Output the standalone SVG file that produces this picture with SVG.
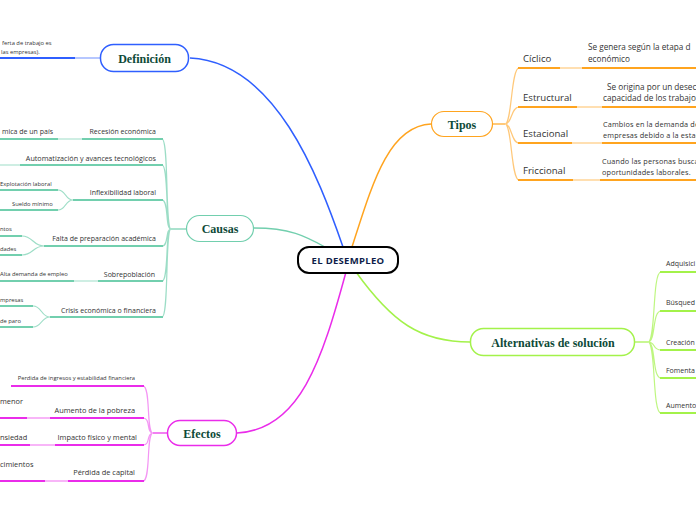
<svg xmlns="http://www.w3.org/2000/svg" width="696" height="520" viewBox="0 0 696 520">
<style>
.main{font-family:"Liberation Serif",serif;font-weight:bold;font-size:12px;fill:#0e4a38}
.lbl{font-family:"Open Sans",sans-serif;fill:#333;font-size:7px}
.lbe{font-family:"Open Sans",sans-serif;fill:#333;font-size:7.4px}
.sm{font-family:"Open Sans",sans-serif;fill:#333;font-size:5.8px}
.ty{font-family:"Open Sans",sans-serif;fill:#333;font-size:9.6px}
.ds{font-family:"Open Sans",sans-serif;fill:#333;font-size:8.2px}
.ds2{font-family:"Open Sans",sans-serif;fill:#333;font-size:7.3px;letter-spacing:0.15px}
path,line{fill:none}
.b{stroke:#2f5fff}
.t{stroke:#72cfae}
.o{stroke:#ffa41f}
.g{stroke:#a3f24a}
.m{stroke:#ea2cea}
.u{stroke-width:2}
.lt{stroke-width:2;opacity:0.35}
.c{stroke-width:1.2}
</style>
<g id="connectors">
  <path class="b" stroke-width="1.5" d="M343,247 C318,175 275,62 190,58"/>
  <path class="o" stroke-width="1.5" d="M352,247 C372,185 388,126 431,124"/>
  <path class="t" stroke-width="1.3" d="M254,228 C290,228 305,236 325,247"/>
  <path class="m" stroke-width="1.5" d="M346,272 C322,360 300,430 237,433"/>
  <path class="g" stroke-width="1.5" d="M356,272 C392,322 420,342 470,342"/>
  <line class="b lt" x1="75" y1="58" x2="100" y2="58"/>
  <line class="b u" x1="0" y1="58" x2="75" y2="58"/>
  <line class="o c" x1="493" y1="124" x2="505" y2="124"/>
  <path class="o c" opacity="0.6" d="M505,124 C512,124 511,68 519,68 M505,124 C512,124 511,107 519,107 M505,124 C512,124 511,143 519,143 M505,124 C512,124 511,180 519,180"/>
  <line class="o u" x1="518" y1="68" x2="560" y2="68"/><line class="o lt" x1="560" y1="68" x2="582" y2="68"/><line class="o u" x1="582" y1="68" x2="696" y2="68"/>
  <line class="o u" x1="518" y1="107" x2="577" y2="107"/><line class="o lt" x1="577" y1="107" x2="602" y2="107"/><line class="o u" x1="602" y1="107" x2="696" y2="107"/>
  <line class="o u" x1="518" y1="143" x2="572" y2="143"/><line class="o lt" x1="572" y1="143" x2="602" y2="143"/><line class="o u" x1="602" y1="143" x2="696" y2="143"/>
  <line class="o u" x1="518" y1="180" x2="573" y2="180"/><line class="o lt" x1="573" y1="180" x2="600" y2="180"/><line class="o u" x1="600" y1="180" x2="696" y2="180"/>
  <line class="g c" x1="633" y1="342" x2="648" y2="342"/>
  <path class="g c" opacity="0.7" d="M648,342 C656,342 652,272 661,272 M648,342 C656,342 652,311 661,311 M648,342 C656,342 652,350 661,350 M648,342 C656,342 652,378 661,378 M648,342 C656,342 652,413 661,413"/>
  <line class="g u" x1="660" y1="272" x2="696" y2="272"/>
  <line class="g u" x1="660" y1="311" x2="696" y2="311"/>
  <line class="g u" x1="660" y1="350" x2="696" y2="350"/>
  <line class="g u" x1="660" y1="378" x2="696" y2="378"/>
  <line class="g u" x1="660" y1="413" x2="696" y2="413"/>
  <line class="t c" x1="186" y1="229" x2="171" y2="229"/>
  <path class="t c" opacity="0.7" d="M171,229 C165,229 169,139 162,139 M171,229 C165,229 169,165 162,165 M171,229 C165,229 169,200 162,200 M171,229 C165,229 169,246 162,246 M171,229 C165,229 169,281 162,281 M171,229 C165,229 169,317 162,317"/>
  <line class="t u" x1="82" y1="139" x2="163" y2="139"/><line class="t lt" x1="58" y1="139" x2="82" y2="139"/><line class="t u" x1="0" y1="139" x2="58" y2="139"/>
  <line class="t u" x1="20" y1="165" x2="163" y2="165"/><line class="t lt" x1="0" y1="165" x2="20" y2="165"/>
  <line class="t u" x1="73" y1="200" x2="163" y2="200"/>
  <path class="t c" opacity="0.7" d="M73,200 C65,200 66,190 58,190 M73,200 C65,200 66,210 58,210"/>
  <line class="t u" x1="0" y1="190" x2="58" y2="190"/>
  <line class="t u" x1="0" y1="210" x2="58" y2="210"/>
  <line class="t u" x1="44" y1="246" x2="163" y2="246"/>
  <path class="t c" opacity="0.7" d="M44,246 C33,246 33,236 22,236 M44,246 C33,246 33,255 22,255"/>
  <line class="t u" x1="0" y1="236" x2="22" y2="236"/>
  <line class="t u" x1="0" y1="255" x2="22" y2="255"/>
  <line class="t u" x1="98" y1="281" x2="163" y2="281"/><line class="t lt" x1="74" y1="281" x2="98" y2="281"/><line class="t u" x1="0" y1="281" x2="74" y2="281"/>
  <line class="t u" x1="50" y1="317" x2="163" y2="317"/>
  <path class="t c" opacity="0.7" d="M50,317 C41,317 42,306 33,306 M50,317 C41,317 42,327 33,327"/>
  <line class="t u" x1="0" y1="306" x2="33" y2="306"/>
  <line class="t u" x1="0" y1="327" x2="33" y2="327"/>
  <line class="m c" x1="167" y1="433" x2="153" y2="433"/>
  <path class="m c" opacity="0.5" d="M153,433 C146,433 151,386 143,386 M153,433 C146,433 151,418 143,418 M153,433 C146,433 151,445 143,445 M153,433 C146,433 151,481 143,481"/>
  <line class="m u" x1="11" y1="386" x2="144" y2="386"/>
  <line class="m u" x1="50" y1="418" x2="144" y2="418"/><line class="m lt" x1="27" y1="418" x2="50" y2="418"/><line class="m u" x1="0" y1="418" x2="27" y2="418"/>
  <line class="m u" x1="55" y1="445" x2="144" y2="445"/><line class="m lt" x1="30" y1="445" x2="55" y2="445"/><line class="m u" x1="0" y1="445" x2="30" y2="445"/>
  <line class="m u" x1="68" y1="481" x2="144" y2="481"/><line class="m lt" x1="45" y1="481" x2="68" y2="481"/><line class="m u" x1="0" y1="481" x2="45" y2="481"/>
</g>
<g id="central">
  <rect x="298" y="247" width="100" height="26" rx="11" fill="#fff" stroke="#000" stroke-width="2"/>
  <text x="348" y="263.8" text-anchor="middle" font-family="Open Sans, sans-serif" font-weight="bold" font-size="9.5" letter-spacing="0.3" fill="#0f1e4a">EL DESEMPLEO</text>
</g>
<g id="definicion">
  <rect x="100.5" y="44.5" width="88" height="27" rx="13" fill="#fff" stroke="#2f5fff" stroke-width="1.5"/>
  <text x="144.5" y="62.5" text-anchor="middle" class="main">Definición</text>
  <text x="2" y="45" class="sm">ferta de trabajo es</text>
  <text x="1" y="54" class="sm">las empresas).</text>
</g>
<g id="causas">
  <rect x="186.5" y="215.5" width="67" height="26" rx="13" fill="#fff" stroke="#72cfae" stroke-width="1.2"/>
  <text x="220" y="233" text-anchor="middle" class="main">Causas</text>
  <g class="lbl" text-anchor="end">
    <text x="156" y="134">Recesión económica</text>
    <text x="156" y="161" font-size="7.2">Automatización y  avances tecnológicos</text>
    <text x="156" y="195">Inflexibilidad laboral</text>
    <text x="156" y="241">Falta de preparación académica</text>
    <text x="155" y="277">Sobrepoblación</text>
    <text x="156" y="313">Crisis económica o financiera</text>
  </g>
  <text x="53" y="134" text-anchor="end" class="lbl">mica de un país</text>
  <g class="sm">
    <text x="0" y="185.5">Explotación laboral</text>
    <text x="12" y="205.5">Sueldo mínimo</text>
    <text x="0" y="231">ntos</text>
    <text x="0" y="250.5">dades</text>
    <text x="0" y="275.5">Alta demanda de empleo</text>
    <text x="0" y="301.5">mpresas</text>
    <text x="0" y="322.5">de paro</text>
  </g>
</g>
<g id="efectos">
  <rect x="167.5" y="420.5" width="69" height="25" rx="12.5" fill="#fff" stroke="#ea2cea" stroke-width="1.5"/>
  <text x="202" y="438" text-anchor="middle" class="main">Efectos</text>
  <text x="135" y="380" text-anchor="end" class="sm" font-size="5.9">Perdida de ingresos y estabilidad financiera</text>
  <g class="lbe" text-anchor="end">
    <text x="135" y="413">Aumento de la pobreza</text>
    <text x="137" y="440">Impacto físico y mental</text>
    <text x="135" y="475">Pérdida de capital</text>
  </g>
  <g class="lbe">
    <text x="0" y="404">menor</text>
    <text x="0" y="440">nsiedad</text>
    <text x="0" y="467">cimientos</text>
  </g>
</g>
<g id="tipos">
  <rect x="431.5" y="111.5" width="61" height="25" rx="12.5" fill="#fff" stroke="#ffa41f" stroke-width="1.2"/>
  <text x="462" y="129" text-anchor="middle" class="main">Tipos</text>
  <g class="ty">
    <text x="523" y="62">Cíclico</text>
    <text x="523" y="101">Estructural</text>
    <text x="523" y="137">Estacional</text>
    <text x="523" y="174">Friccional</text>
  </g>
  <g class="ds">
    <text x="588" y="50">Se genera según la etapa d</text>
    <text x="588" y="62">económico</text>
    <text x="607" y="90">Se origina por un desec</text>
    <text x="603" y="101">capacidad de los trabajo</text>
  </g>
  <g class="ds2">
    <text x="603" y="127">Cambios en la demanda de</text>
    <text x="603" y="138">empresas debido a la estac</text>
    <text x="602" y="164">Cuando las personas busca</text>
    <text x="602" y="175">oportunidades laborales.</text>
  </g>
</g>
<g id="alternativas">
  <rect x="470.5" y="328.5" width="164" height="27" rx="13" fill="#fff" stroke="#a3f24a" stroke-width="1.5"/>
  <text x="553" y="346.5" text-anchor="middle" class="main">Alternativas de solución</text>
  <g class="lbl">
    <text x="666" y="266">Adquisici</text>
    <text x="666" y="305">Búsqued</text>
    <text x="666" y="345">Creación</text>
    <text x="666" y="373">Fomenta</text>
    <text x="666" y="408">Aumento</text>
  </g>
</g>
</svg>
